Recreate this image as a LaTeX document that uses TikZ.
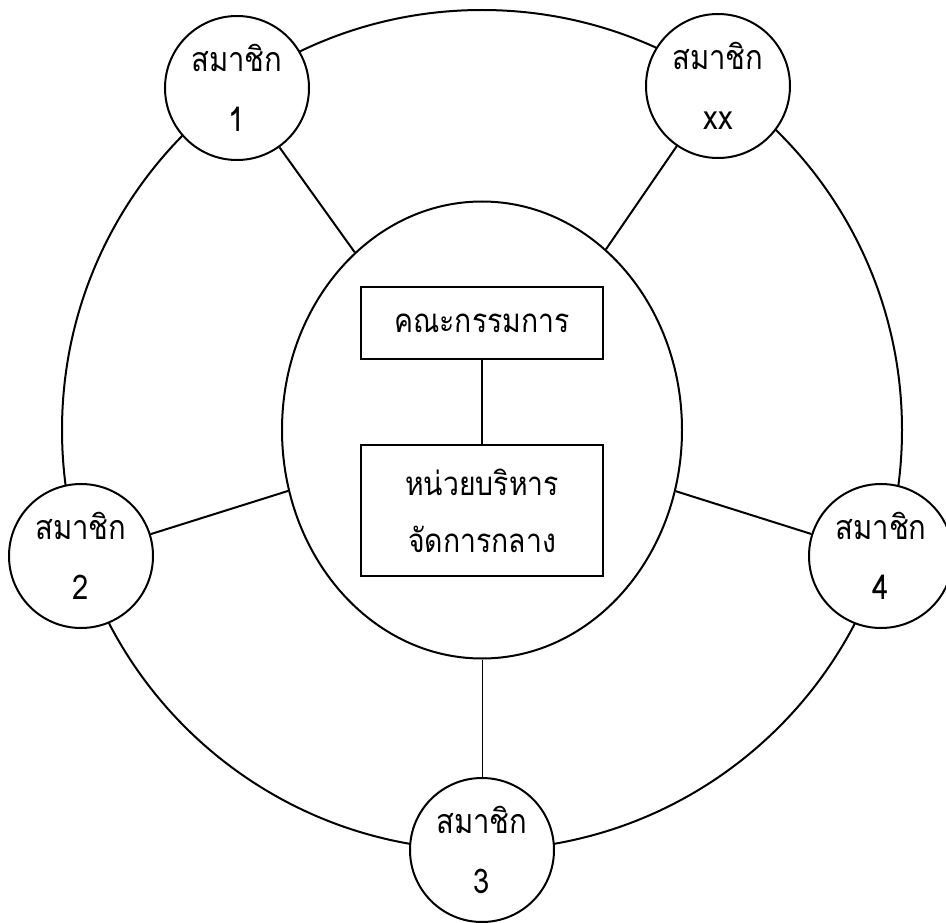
\documentclass[tikz,border=0pt]{standalone}
\usepackage{fontspec}
\newfontfamily\thaifont[Script=Thai,FakeStretch=0.86]{Loma}
\usetikzlibrary{shapes.geometric}
\begin{document}
\begin{tikzpicture}[x=1pt,y=-1pt,line width=2pt,
  member/.style={circle,draw,fill=white,minimum size=144pt,inner sep=0pt,align=center,
    font=\thaifont\fontsize{34}{60}\selectfont},
  unitbox/.style={rectangle,draw,fill=white,minimum width=242pt,inner sep=0pt,align=center,
    font=\thaifont\fontsize{33}{57}\selectfont},
  ringstyle/.style={circle,draw,minimum size=840pt,inner sep=0pt},
  corestyle/.style={ellipse,draw,minimum width=400pt,minimum height=457pt,inner sep=0pt},
  link/.style={line width=2pt},
  thinlink/.style={line width=1pt}]
\useasboundingbox (0,0) rectangle (946,923);
\node[ringstyle] (ring) at (482,430) {};
\node[corestyle] (core) at (482,430) {};
\node[unitbox,minimum height=72pt] (board) at (482,323) {คณะกรรมการ};
\node[unitbox,minimum height=131pt] (office) at (482,510.5) {หน่วยบริหาร\\จัดการกลาง};
\draw[link] (board) -- (office);
\node[member] (m1) at (237,88) {สมาชิก\\1};
\node[member] (mx) at (718,86) {สมาชิก\\xx};
\node[member] (m2) at (81,556) {สมาชิก\\2};
\node[member] (m4) at (881,556) {สมาชิก\\4};
\node[member] (m3) at (482,850) {สมาชิก\\3};
\draw[link] (m1) -- (core);
\draw[link] (mx) -- (core);
\draw[link] (m2) -- (core);
\draw[link] (m4) -- (core);
\draw[thinlink] (core) -- (m3);
\end{tikzpicture}
\end{document}
